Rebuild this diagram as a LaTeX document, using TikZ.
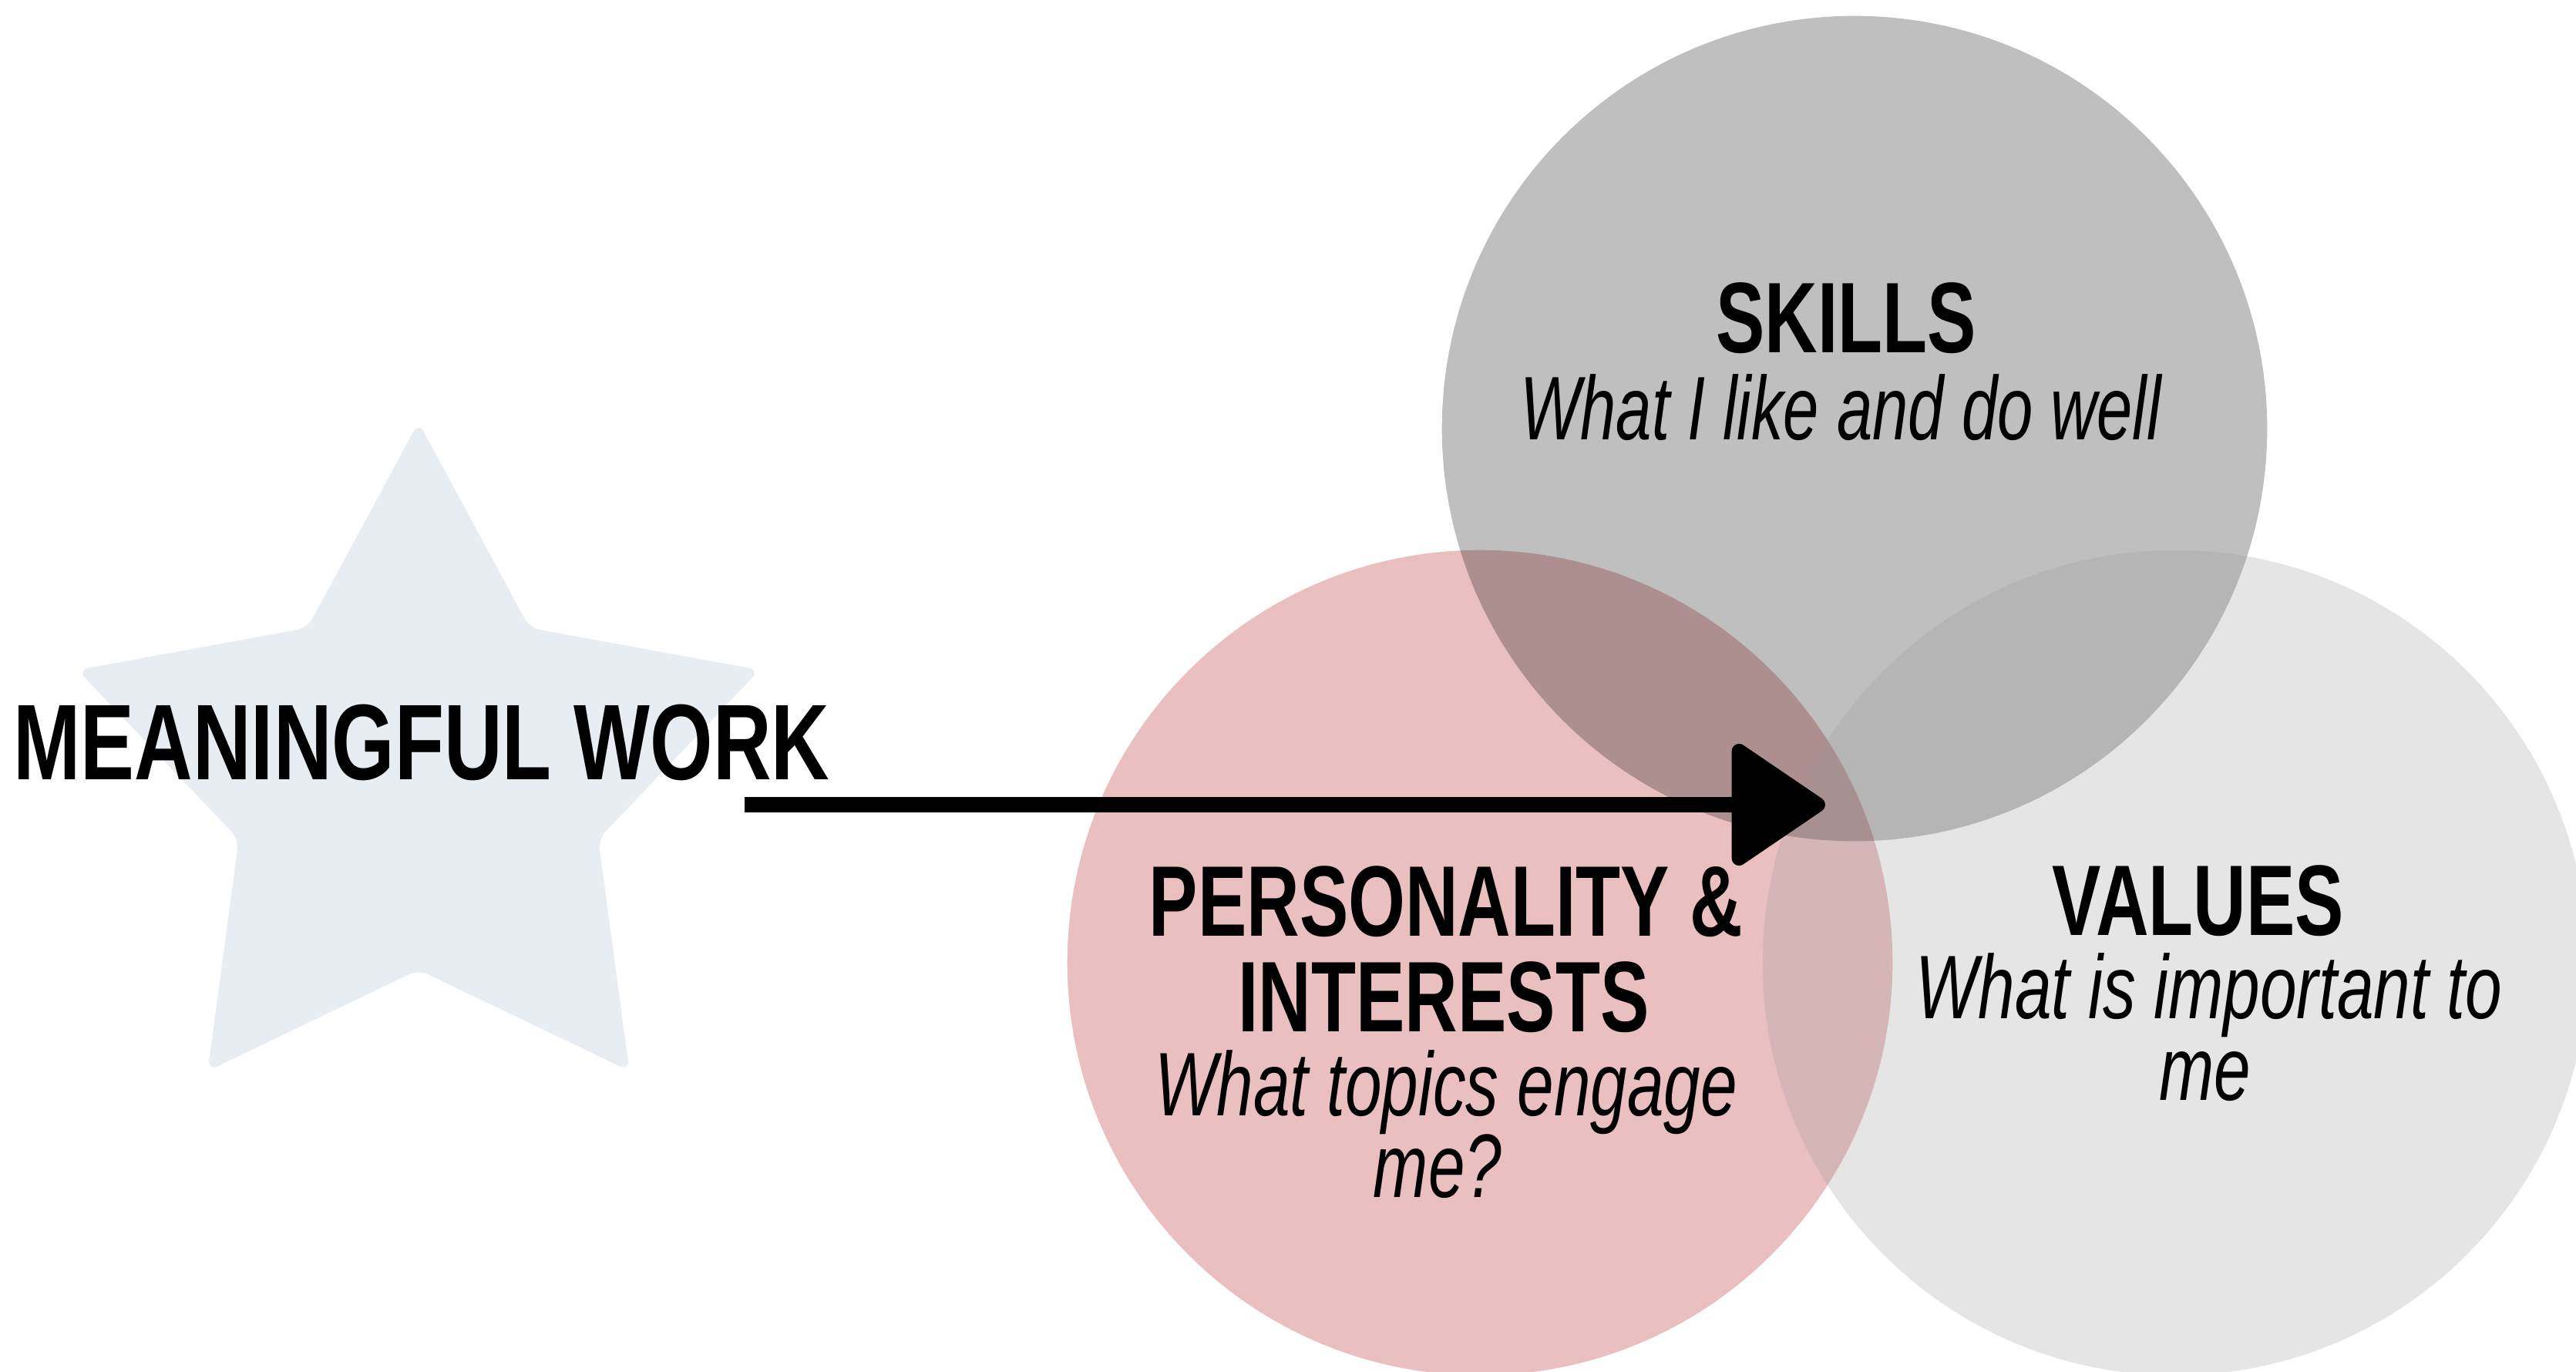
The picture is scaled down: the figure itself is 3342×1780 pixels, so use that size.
\documentclass[tikz,border=0pt]{standalone}
\usepackage{fontspec}
\setmainfont{Liberation Sans}
\newfontfamily\titlefont[FakeStretch=0.73]{Liberation Sans}
\newfontfamily\bigfont[FakeStretch=0.75]{Liberation Sans}
\newfontfamily\subfont[FakeStretch=0.71]{Liberation Sans}
\newfontfamily\subwidefont[FakeStretch=0.73]{Liberation Sans}
\usetikzlibrary{arrows.meta}
\definecolor{pinkfill}{HTML}{E9BFC0}
\definecolor{valgray}{HTML}{969696}
\definecolor{starfill}{HTML}{E8EDF3}
\tikzset{
  bubble/.style={circle, minimum size=10.7cm, inner sep=0pt, draw=none},
  titletext/.style={anchor=base, inner sep=0pt, font=\titlefont\bfseries\fontsize{37pt}{37pt}\selectfont},
  bigtext/.style={anchor=base, inner sep=0pt, font=\bigfont\bfseries\fontsize{39.7pt}{39.7pt}\selectfont},
  subtext/.style={anchor=base, inner sep=0pt, font=\subfont\itshape\fontsize{33.3pt}{33.3pt}\selectfont},
  subwide/.style={anchor=base, inner sep=0pt, font=\subwidefont\itshape\fontsize{33.3pt}{33.3pt}\selectfont},
  pointer/.style={line width=0.19cm, -{Triangle[length=1.29cm, width=1.7cm, round]}}
}
\begin{document}
\begin{tikzpicture}[x=0.01cm, y=-0.01cm]
\useasboundingbox (0,0) rectangle (3342,1780);
\fill[white] (0,0) rectangle (3342,1780);
% star
\fill[starfill, rounded corners=0.14cm, shift={(543,1013)}]
  (90:4.65cm) -- (54:2.45cm) -- (18:4.65cm) -- (-18:2.45cm) -- (-54:4.65cm)
  -- (-90:2.45cm) -- (-126:4.65cm) -- (-162:2.45cm) -- (162:4.65cm) -- (126:2.45cm) -- cycle;
% circles
\node[bubble, fill=pinkfill] (pers) at (1920,1249) {};
\node[bubble, fill=black, fill opacity=0.25] (skills) at (2406,556) {};
\node[bubble, fill=valgray, fill opacity=0.24] (values) at (2822,1249) {};
% arrow
\coordinate (aS) at (966,1044);
\coordinate (aE) at (2368,1044);
\draw[pointer] (aS) -- (aE);
% texts
\node[bigtext] (mw) at (547,1012) {MEANINGFUL WORK};
\node[titletext] (skT) at (2395,458) {SKILLS};
\node[subtext] (skS) at (2388,571) {What I like and do well};
\node[titletext] (peT1) at (1876,1215) {PERSONALITY \&};
\node[titletext] (peT2) at (1873,1339) {INTERESTS};
\node[subwide] (peS1) at (1876,1448) {What topics engage};
\node[subwide] (peS2) at (1865,1553) {me?};
\node[titletext] (vaT) at (2852,1214) {VALUES};
\node[subwide] (vaS1) at (2866,1321) {What is important to};
\node[subwide] (vaS2) at (2861,1427) {me};
\end{tikzpicture}
\end{document}
